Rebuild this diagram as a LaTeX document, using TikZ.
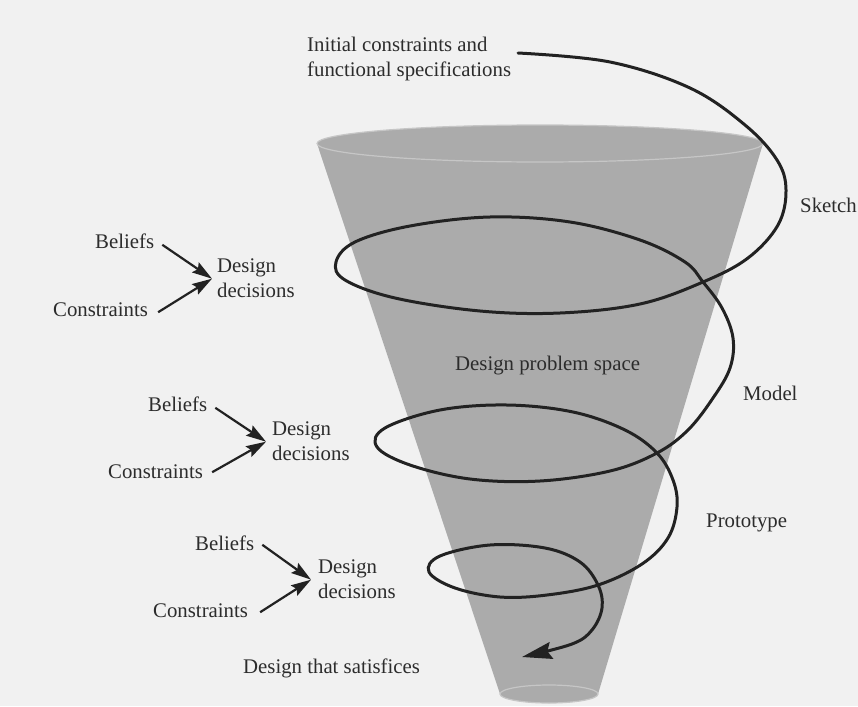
\documentclass[tikz,border=0pt]{standalone}
\usepackage{fontspec}
\setmainfont{Liberation Serif}
\usetikzlibrary{arrows.meta,calc}
\definecolor{pagebg}{HTML}{F1F1F1}
\definecolor{conegray}{HTML}{ABABAB}
\definecolor{rimgray}{HTML}{C6C6C6}
\definecolor{inkc}{HTML}{222222}
\definecolor{txtc}{HTML}{2C2C2C}
\begin{document}
\begin{tikzpicture}[x=1pt,y=-1pt,
  lbl/.style={font=\fontsize{20.8}{25}\selectfont, text=txtc, inner sep=0pt, align=left},
  arr/.style={draw=inkc, line width=2.2pt, -{Stealth[length=20pt,width=12pt,inset=3pt]}},
  spiralline/.style={draw=inkc, line width=3pt, line cap=round, -{Stealth[length=30pt,width=17pt,inset=4pt]}},
  rim/.style={draw=rimgray, line width=1.2pt}]
\fill[pagebg] (0,0) rectangle (858,706);
\path[use as bounding box] (0,0) rectangle (858,706);
% cone
\fill[conegray] (317,143.5) -- (500,694)
  .. controls (500,699) and (522,703) .. (549,703)
  .. controls (576,703) and (598,699) .. (598,694)
  -- (763,143.5)
  .. controls (763,133.3) and (663.2,125) .. (540,125)
  .. controls (416.8,125) and (317,133.3) .. (317,143.5) -- cycle;
\draw[rim] (540,143.5) ellipse[x radius=223, y radius=18.5];
\draw[rim] (549,694) ellipse[x radius=49, y radius=9];
% labels
\node[lbl, anchor=north west] (init) at (307,37) {Initial constraints and\\functional specifications};
\node[lbl, anchor=base west] (sketch) at (800,212) {Sketch};
\node[lbl, anchor=base west] (model) at (743,400) {Model};
\node[lbl, anchor=base west] (proto) at (706,527) {Prototype};
\node[lbl, anchor=base west] (space) at (455,370) {Design problem space};
\node[lbl, anchor=base west] (final) at (243,673) {Design that satisfices};
% group 1
\node[lbl, anchor=base west] (b1) at (95,248) {Beliefs};
\node[lbl, anchor=base west] (c1) at (53,316) {Constraints};
\node[lbl, anchor=north west] (d1) at (217,259) {Design\\decisions};
% group 2
\node[lbl, anchor=base west] (b2) at (148,411) {Beliefs};
\node[lbl, anchor=base west] (c2) at (108,478) {Constraints};
\node[lbl, anchor=north west] (d2) at (272,422) {Design\\decisions};
% group 3
\node[lbl, anchor=base west] (b3) at (195,550) {Beliefs};
\node[lbl, anchor=base west] (c3) at (153,617) {Constraints};
\node[lbl, anchor=north west] (d3) at (318,560) {Design\\decisions};
% arrows
\draw[arr] ([shift={(8,4)}]b1.east) -- ([xshift=-5]d1.west);
\draw[arr] ([shift={(10,3)}]c1.east) -- ([xshift=-5]d1.west);
\draw[arr] ([shift={(8,4)}]b2.east) -- ([xshift=-6]d2.west);
\draw[arr] ([shift={(9,1)}]c2.east) -- ([xshift=-6]d2.west);
\draw[arr] ([shift={(8,2)}]b3.east) -- ([xshift=-7]d3.west);
\draw[arr] ([shift={(12,2)}]c3.east) -- ([xshift=-7]d3.west);
% spiral
\coordinate (sstart) at (518,53);
\coordinate (send) at (522,657);
\draw[spiralline] plot[smooth, tension=0.6] coordinates {
 (518,53) (610,62) (690,88) (745,125) (777,160) (786,190) (778,225) (748,258)
 (703,282) (640,304) (560,313) (480,311) (395,298) (345,280) (336,262)
 (355,242) (410,226) (490,217) (570,222) (640,240) (685,262) (703,282)
 (722,308) (733,338) (730,368) (713,398) (688,430) (657,453)
 (610,471) (540,481) (470,479) (410,465) (377,447) (385,428) (440,410)
 (507,405) (573,412) (625,430) (657,453)
 (673,480) (677,507) (668,538) (642,564) (598,585)
 (547,595) (500,597) (455,588) (429,572) (440,556) (490,545) (545,548)
 (580,562) (598,585) (602,608) (592,630) (572,644) (522,657)};
\end{tikzpicture}
\end{document}
